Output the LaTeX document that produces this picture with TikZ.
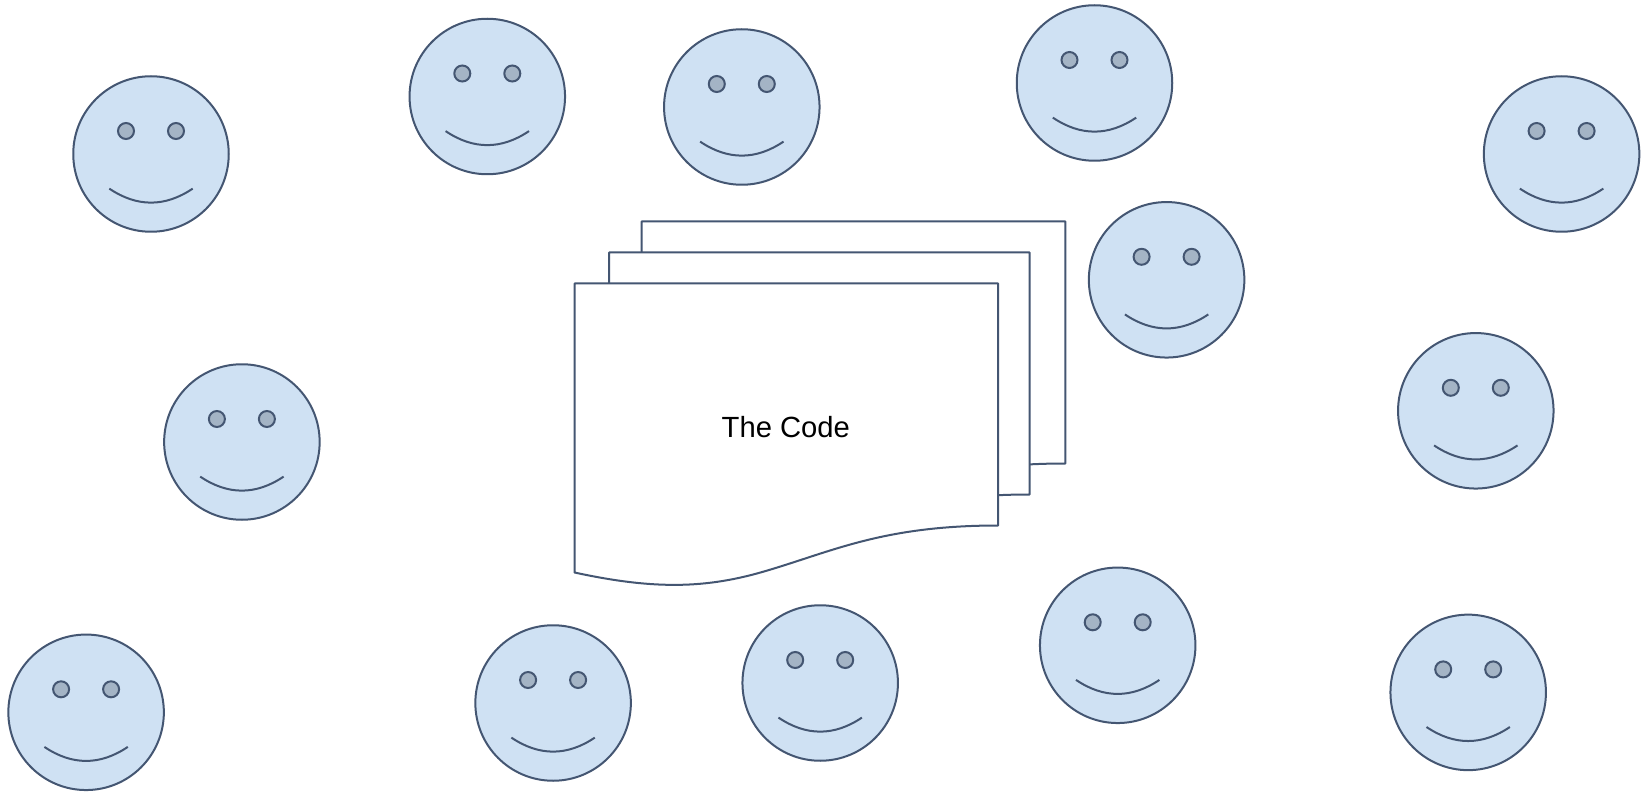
\documentclass[tikz,border=0pt]{standalone}
\usepackage{fontspec}
\setmainfont{Liberation Sans}
\definecolor{faceblue}{HTML}{CFE1F3}
\definecolor{eyegrey}{HTML}{A4B4C5}
\definecolor{linedark}{HTML}{445672}
\tikzset{
  head/.style={circle,draw=linedark,fill=faceblue,line width=2pt,minimum size=155.5pt,inner sep=0pt,outer sep=0pt},
  eye/.style={circle,draw=linedark,fill=eyegrey,line width=2pt,minimum size=16pt,inner sep=0pt,outer sep=0pt},
  smile/.style={draw=linedark,line width=2pt},
  sheet/.style={draw=linedark,fill=white,line width=2pt,line join=round},
  smiley/.pic={
    \node[head] (-head) at (0,0) {};
    \node[eye] (-left) at (-25,-23) {};
    \node[eye] (-right) at (25,-23) {};
    \draw[smile] (-41.7,34.6) .. controls (-14,53.3) and (14,53.3) .. (41.7,34.6);
  },
  paper/.pic={
    \draw[sheet] (0,0) -- (423.7,0) -- (423.7,242) .. controls (306,242) and (256,269) .. (186,289)
      .. controls (126,306) and (74,305) .. (0,289) -- cycle;
  }
}
\begin{document}
\begin{tikzpicture}[x=1pt,y=-1pt]
\useasboundingbox (0,0) rectangle (1642,791.5);

% define the pages
  \pic (back) at (641.7,221.5) {paper};
  \pic[xscale=0.993] (middle) at (609,252.5) {paper};
  \pic (front) at (574.5,283.5) {paper};
  \node[font=\fontsize{29.2}{35}\selectfont] (code) at (785.8,427) {The Code};

% define the faces
  \foreach \name/\px/\py in {a/151/154, b/487.3/96.5, c/741.8/107, d/1094.5/83,
      e/1561.6/154, f/1166.6/279.8, g/1475.8/410.8, h/241.9/442, i/86.1/712.3,
      j/553.1/703, k/820.2/683, l/1117.7/645.3, m/1468.2/692.4}
    \pic (\name) at (\px,\py) {smiley};

\end{tikzpicture}
\end{document}
